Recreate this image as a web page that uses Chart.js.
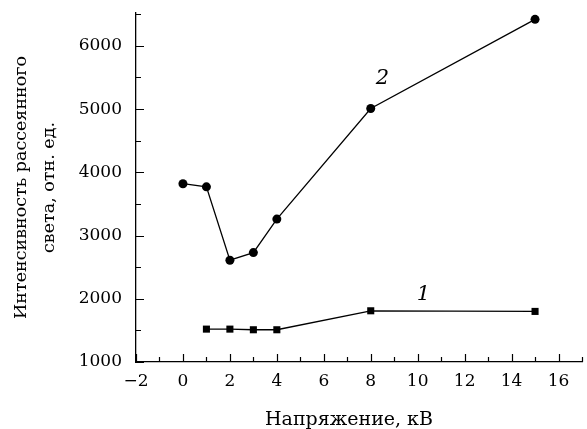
<!DOCTYPE html>
<html>
<head>
<meta charset="utf-8">
<script src="https://cdn.jsdelivr.net/npm/chart.js@4/dist/chart.umd.min.js"></script>
<style>
  html, body { margin: 0; padding: 0; background: #fff; }
  #wrap { width: 587px; height: 429px; position: relative; }
</style>
</head>
<body>
<div id="wrap"><canvas id="chart"></canvas></div>
<script>
// ── Data ─────────────────────────────────────────────────────────────────────
const voltage2 = [0, 1, 2, 3, 4, 8, 15];
const intensity2 = [3820, 3770, 2610, 2730, 3260, 5010, 6420];

const voltage1 = [1, 2, 3, 4, 8, 15];
const intensity1 = [1520, 1520, 1510, 1510, 1810, 1800];

const xTicks = [-2, 0, 2, 4, 6, 8, 10, 12, 14, 16];
const yTicks = [1000, 2000, 3000, 4000, 5000, 6000];

const FONT = "'DejaVu Serif', serif";

// ── Inward ticks, curve numbers and x title ─────────────────────────────────
const axisDecor = {
  id: "axisDecor",
  afterDraw(chart) {
    const { ctx, chartArea: a, scales: { x, y } } = chart;
    ctx.save();
    ctx.strokeStyle = "#000";
    ctx.lineWidth = 1.2;
    ctx.beginPath();
    for (let v = -2; v <= 17; v += 1) {
      const px = Math.round(x.getPixelForValue(v)) + 0.5;
      const len = v % 2 === 0 ? 8 : 5;
      ctx.moveTo(px, a.bottom);
      ctx.lineTo(px, a.bottom - len);
    }
    for (let v = 1000; v <= 6500; v += 500) {
      const py = Math.round(y.getPixelForValue(v)) + 0.5;
      const len = v % 1000 === 0 ? 8 : 5;
      ctx.moveTo(a.left, py);
      ctx.lineTo(a.left + len, py);
    }
    ctx.stroke();

    ctx.fillStyle = "#000";
    ctx.font = "italic 21px " + FONT;
    ctx.textAlign = "center";
    ctx.textBaseline = "middle";
    ctx.fillText("2", x.getPixelForValue(8.5), y.getPixelForValue(5490));
    ctx.fillText("1", x.getPixelForValue(10.25), y.getPixelForValue(2060));

    ctx.font = "19px " + FONT;
    ctx.textBaseline = "alphabetic";
    ctx.fillText("Напряжение, кВ", 349, 425);
    ctx.restore();
  }
};

const common = {
  borderColor: "#000",
  backgroundColor: "#000",
  borderWidth: 1.3,
  pointBorderWidth: 0,
  tension: 0,
  fill: false,
};

new Chart(document.getElementById("chart"), {
  type: "scatter",
  data: {
    datasets: [
      {
        ...common,
        label: "2",
        data: voltage2.map((v, i) => ({ x: v, y: intensity2[i] })),
        showLine: true,
        pointStyle: "circle",
        pointRadius: 4.5,
      },
      {
        ...common,
        label: "1",
        data: voltage1.map((v, i) => ({ x: v, y: intensity1[i] })),
        showLine: true,
        pointStyle: "rect",
        pointRadius: 5,
      },
    ],
  },
  options: {
    responsive: true,
    maintainAspectRatio: false,
    animation: false,
    layout: { padding: { top: 13, right: 2, left: 0, bottom: 0 } },
    plugins: { legend: { display: false }, tooltip: { enabled: false } },
    scales: {
      x: {
        type: "linear",
        min: -2,
        max: 17,
        afterBuildTicks: s => { s.ticks = xTicks.map(v => ({ value: v })); },
        afterFit: s => { s.height = 67; s.paddingLeft = 0; s.paddingRight = 0; },
        grid: { display: false, drawTicks: false },
        border: { display: true, color: "#000", width: 1.3 },
        ticks: {
          color: "#000",
          font: { family: FONT, size: 17 },
          padding: 9,
          maxRotation: 0,
          callback: v => (v < 0 ? "\u2212" + Math.abs(v) : String(v)),
        },
      },
      y: {
        type: "linear",
        min: 1000,
        max: 6520,
        afterBuildTicks: s => { s.ticks = yTicks.map(v => ({ value: v })); },
        afterFit: s => { s.width = 136; s.paddingTop = 0; s.paddingBottom = 0; },
        grid: { display: false, drawTicks: false },
        border: { display: true, color: "#000", width: 1.3 },
        ticks: {
          color: "#000",
          font: { family: FONT, size: 17 },
          padding: 14,
          callback: v => String(v),
        },
        title: {
          display: true,
          text: ["Интенсивность рассеянного", "света, отн. ед."],
          color: "#000",
          font: { family: FONT, size: 17.5, lineHeight: 1.6 },
          padding: { top: 7, bottom: 0 },
        },
      },
    },
  },
  plugins: [axisDecor],
});
</script>
</body>
</html>
